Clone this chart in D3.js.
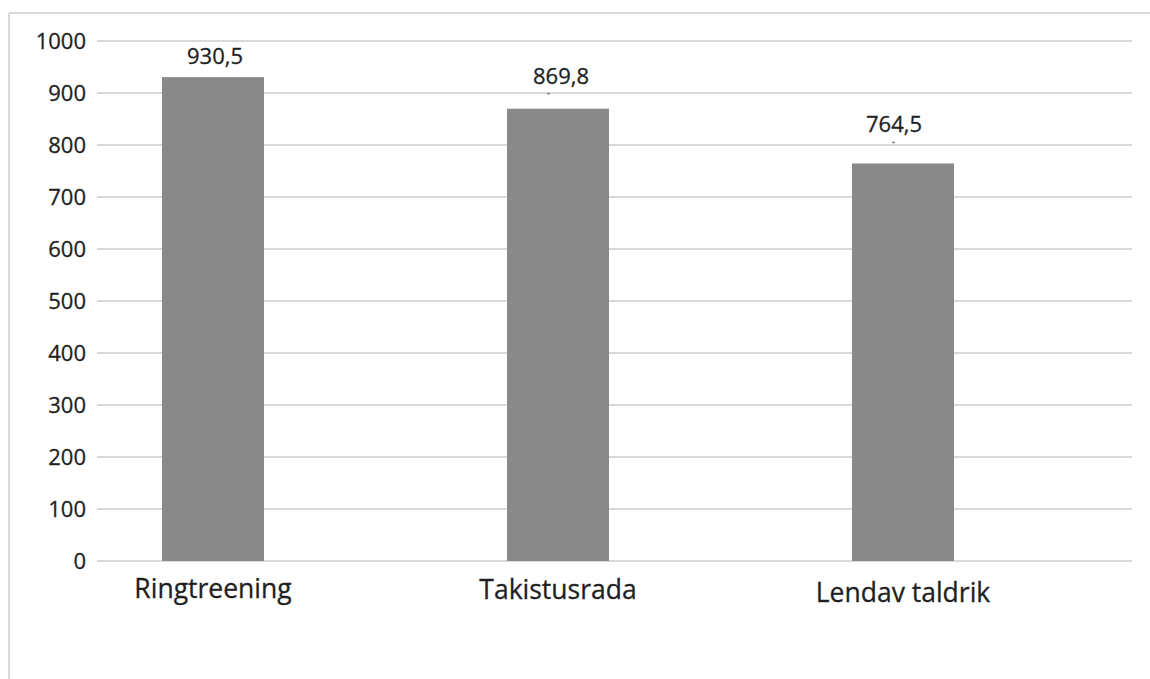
<!DOCTYPE html>
<html>
<head>
<meta charset="utf-8">
<script src="https://cdn.jsdelivr.net/npm/d3@7"></script>
<style>
  html, body { margin: 0; padding: 0; background: #fff; }
  svg { display: block; }
</style>
</head>
<body>
<svg id="chart" width="1150" height="679"></svg>
<script>
// ---- data ----
const categories = ["Ringtreening", "Takistusrada", "Lendav taldrik"];
const values = [930.5, 869.8, 764.5];
const valueLabels = ["930,5", "869,8", "764,5"];
const yTicks = [0, 100, 200, 300, 400, 500, 600, 700, 800, 900, 1000];

// ---- layout (not data) ----
const W = 1150, H = 679;
const plot = { top: 41, bottom: 561, gridLeft: 97, gridRight: 1132 };
const labelLift = [13, 25, 31];      // px above bar top for value labels
const labelShiftX = [2, 3, -9];      // small horizontal nudges of value labels
const catBaselineShift = [0, 1, 4];
const textColor = "#1f1f1f";
const font = "'Open Sans', sans-serif";

const svg = d3.select("#chart");

// outer border (top & left visible)
svg.append("line").attr("x1", 9).attr("x2", W).attr("y1", 13).attr("y2", 13)
  .attr("stroke", "#d9d9d9").attr("stroke-width", 2);
svg.append("line").attr("x1", 9).attr("x2", 9).attr("y1", 13).attr("y2", H)
  .attr("stroke", "#d9d9d9").attr("stroke-width", 2);

const y = d3.scaleLinear().domain([0, 1000]).range([plot.bottom, plot.top]);
const x = d3.scaleBand().domain(categories).range([40.5, 1075.5]).paddingInner(0).paddingOuter(0);
const barW = 102;

// gridlines
svg.append("g").selectAll("line").data(yTicks).join("line")
  .attr("x1", plot.gridLeft).attr("x2", plot.gridRight)
  .attr("y1", d => Math.round(y(d))).attr("y2", d => Math.round(y(d)))
  .attr("stroke", "#d9d9d9").attr("stroke-width", 2);

// y axis labels
const yAxis = d3.axisLeft(y).tickValues(yTicks).tickSize(0).tickPadding(0).tickFormat(d3.format("d"));
const gy = svg.append("g").attr("transform", "translate(86,0)").call(yAxis);
gy.select(".domain").remove();
gy.selectAll("text")
  .attr("font-family", font)
  .attr("font-size", 22)
  .attr("fill", textColor)
  .attr("stroke", textColor).attr("stroke-width", 0.3)
  .attr("dy", "0.36em");

// bars
const data = categories.map((c, i) => ({ c, v: values[i], label: valueLabels[i], i }));
svg.append("g").selectAll("rect").data(data).join("rect")
  .attr("x", d => x(d.c) + x.bandwidth() / 2 - barW / 2)
  .attr("width", barW)
  .attr("y", d => y(d.v))
  .attr("height", d => y(0) - y(d.v))
  .attr("fill", "#898989");

// leader marks for lifted labels
svg.append("g").selectAll("line").data(data.filter(d => d.i > 0)).join("line")
  .attr("x1", d => x(d.c) + x.bandwidth() / 2 - 11)
  .attr("x2", d => x(d.c) + x.bandwidth() / 2 - 8)
  .attr("y1", d => y(d.v) - labelLift[d.i] + 10)
  .attr("y2", d => y(d.v) - labelLift[d.i] + 10)
  .attr("stroke", "#8a8a8a").attr("stroke-width", 1.5);

// value labels
svg.append("g").selectAll("text").data(data).join("text")
  .attr("x", d => x(d.c) + x.bandwidth() / 2 + labelShiftX[d.i])
  .attr("y", d => y(d.v) - labelLift[d.i])
  .attr("text-anchor", "middle")
  .attr("font-family", font)
  .attr("font-size", 22)
  .attr("fill", textColor)
  .attr("stroke", textColor).attr("stroke-width", 0.3)
  .text(d => d.label);

// category axis labels
const xAxis = d3.axisBottom(x).tickSize(0).tickPadding(0);
const gx = svg.append("g").attr("transform", `translate(0,${plot.bottom})`).call(xAxis);
gx.select(".domain").remove();
gx.selectAll("text")
  .attr("font-family", font)
  .attr("font-size", 26.5)
  .attr("fill", textColor)
  .attr("stroke", textColor).attr("stroke-width", 0.3)
  .attr("dy", null)
  .attr("y", (d, i) => 37 + catBaselineShift[i]);
</script>
</body>
</html>
